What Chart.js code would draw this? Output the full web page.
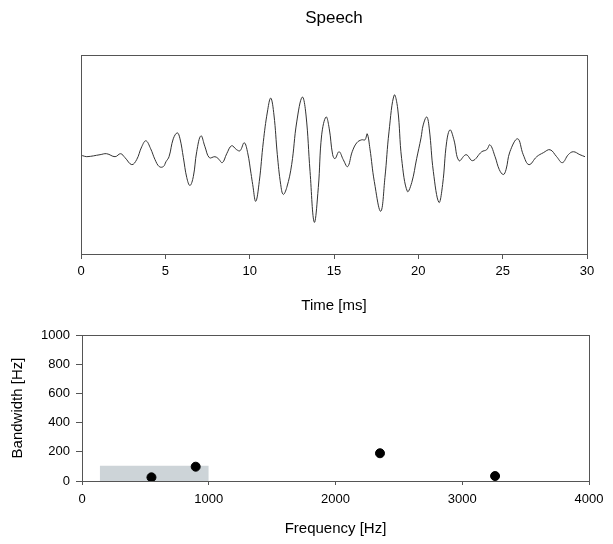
<!DOCTYPE html>
<html>
<head>
<meta charset="utf-8">
<script src="https://cdn.jsdelivr.net/npm/chart.js@4/dist/chart.umd.min.js"></script>
<style>
  html, body { margin: 0; padding: 0; background: #fff; }
  #wrap { position: relative; width: 613px; height: 544px; }
  #waveBox { position: absolute; left: 0; top: 0; width: 613px; height: 320px; }
  #formBox { position: absolute; left: 0; top: 320px; width: 613px; height: 224px; }
</style>
</head>
<body>
<div id="wrap">
  <div id="waveBox"><canvas id="waveChart"></canvas></div>
  <div id="formBox"><canvas id="formChart"></canvas></div>
</div>
<script>
// ===== DATA =====
// speech waveform (time in ms, arbitrary amplitude)
const timeMs = [0, 0.10, 0.34, 1.13, 1.52, 2.02, 2.35, 2.61, 3.01, 3.30, 3.60, 3.85, 4.13, 4.39, 4.64, 4.88,
  5.04, 5.22, 5.47, 5.71, 5.87, 6.07, 6.27, 6.46, 6.66, 6.86, 7.11, 7.35, 7.61, 7.94, 8.14, 8.38,
  8.64, 8.93, 9.23, 9.43, 9.68, 9.88, 10.08, 10.18, 10.36, 10.57, 10.81, 11.05, 11.25, 11.44, 11.64,
  11.84, 11.99, 12.20, 12.49, 12.79, 13.12, 13.34, 13.58, 13.83, 14.07, 14.27, 14.53, 14.72, 14.92,
  15.06, 15.30, 15.55, 15.81, 16.08, 16.35, 16.64, 16.84, 16.97, 17.13, 17.39, 17.77, 18.02, 18.26,
  18.57, 18.78, 19.01, 19.35, 19.61, 19.90, 20.16, 20.29, 20.50, 20.65, 20.89, 21.22, 21.44, 21.68,
  21.88, 22.11, 22.41, 22.83, 23.22, 23.76, 24.05, 24.25, 24.55, 24.80, 25.04, 25.20, 25.43, 25.89,
  26.22, 26.56, 27.02, 27.41, 27.81, 28.20, 28.54, 28.89, 29.19, 29.58, 29.88];
const amplitude = [-1, -1, -2, 0, 1, -2, 1, -3, -10, -5, 8, 14, 6, -5, -12, -12,
  -7, -2, 16, 22, 16, -3, -23, -31, -22, 3, 19, 8, -3, -2, -4, -8,
  1, 9, 5, 4, 12, 2, -19, -30, -47, -27, 13, 43, 57, 40, 0,
  -30, -40, -33, -10, 33, 58, 40, -17, -68, -33, 20, 38, 26, 0,
  -4, 3, -5, -12, 3, 12, 15, 15, 21, 6, -27, -57, -23, 23,
  60, 46, -4, -37, -28, -4, 17, 30, 38, 26, -17, -48, -30, 13,
  25, 15, -6, 0, -6, 3, 5, 10, -2, -15, -20, -15, 3, 16,
  0, -10, -2, 2, 5, -2, -8, 0, 3, 0, -2];
const timeTicks = [0, 5, 10, 15, 20, 25, 30];

// formants
const formantFreq = [548, 897, 2351, 3259];
const formantBw = [25, 98, 190, 34];
const bandFreq = [140, 1000];
const bandTop = 105;
const freqTicks = [0, 1000, 2000, 3000, 4000];
const bwTicks = [0, 200, 400, 600, 800, 1000];

// ===== STYLE =====
Chart.defaults.font.family = '"Liberation Sans", Arial, sans-serif';
Chart.defaults.color = '#000';
Chart.defaults.animation = false;
const frameColor = '#555';

const boxPlugin = {
  id: 'box',
  afterDraw(chart) {
    const { ctx, chartArea: a } = chart;
    ctx.save();
    ctx.strokeStyle = frameColor;
    ctx.lineWidth = 1;
    ctx.strokeRect(Math.round(a.left) + 0.5, Math.round(a.top) + 0.5,
      Math.round(a.right - a.left), Math.round(a.bottom - a.top));
    ctx.restore();
  }
};

const fixedTicks = list => scale => { scale.ticks = list.map(v => ({ value: v })); };
const plainLabel = v => String(v);

// ===== WAVEFORM CHART =====
new Chart(document.getElementById('waveChart'), {
  type: 'line',
  data: {
    datasets: [{
      data: timeMs.map((t, i) => ({ x: t, y: amplitude[i] })),
      borderColor: '#333',
      borderWidth: 1,
      pointRadius: 0,
      tension: 0.4,
      fill: false,
    }]
  },
  options: {
    responsive: true,
    maintainAspectRatio: false,
    layout: { padding: { left: 81, right: 26, top: 0, bottom: 0 } },
    plugins: {
      legend: { display: false },
      tooltip: { enabled: false },
      title: {
        display: true, text: 'Speech', color: '#000',
        font: { size: 17, weight: 'normal' },
        padding: { top: 8, bottom: 27 },
      },
    },
    scales: {
      x: {
        type: 'linear', min: 0, max: 30,
        afterBuildTicks: fixedTicks(timeTicks),
        afterFit: s => { s.height = 66; },
        grid: { drawOnChartArea: false, tickLength: 5, color: frameColor, tickColor: frameColor },
        border: { color: frameColor },
        ticks: { font: { size: 13 }, padding: 5, maxRotation: 0, callback: plainLabel },
        title: { display: true, text: 'Time [ms]', font: { size: 15 }, padding: { top: 0, bottom: 5 } },
      },
      y: { display: false, min: -100, max: 100 },
    }
  },
  plugins: [boxPlugin]
});

// ===== FORMANT CHART =====
new Chart(document.getElementById('formChart'), {
  type: 'scatter',
  data: {
    datasets: [{
      data: formantFreq.map((f, i) => ({ x: f, y: formantBw[i] })),
      backgroundColor: '#000',
      borderColor: '#000',
      pointRadius: 4.5,
      order: 0,
    }, {
      type: 'line',
      data: bandFreq.map(f => ({ x: f, y: bandTop })),
      backgroundColor: '#cdd4d8',
      borderWidth: 0,
      pointRadius: 0,
      fill: 'origin',
      order: 1,
    }]
  },
  options: {
    responsive: true,
    maintainAspectRatio: false,
    layout: { padding: { left: 0, right: 24, top: 15, bottom: 0 } },
    plugins: { legend: { display: false }, tooltip: { enabled: false } },
    scales: {
      x: {
        type: 'linear', min: 0, max: 4000,
        afterBuildTicks: fixedTicks(freqTicks),
        afterFit: s => { s.height = 63; },
        grid: { drawOnChartArea: false, tickLength: 4, color: frameColor, tickColor: frameColor },
        border: { color: frameColor },
        ticks: { font: { size: 13 }, padding: 7, maxRotation: 0, callback: plainLabel },
        title: { display: true, text: 'Frequency [Hz]', font: { size: 15 }, padding: { top: 0, bottom: 6 } },
      },
      y: {
        min: 0, max: 1000,
        afterBuildTicks: fixedTicks(bwTicks),
        afterFit: s => { s.width = 82; },
        grid: { drawOnChartArea: false, tickLength: 6, color: frameColor, tickColor: frameColor },
        border: { color: frameColor },
        ticks: { font: { size: 13 }, padding: 6, callback: plainLabel },
        title: { display: true, text: 'Bandwidth [Hz]', font: { size: 15 }, padding: { top: 9, bottom: 0 } },
      },
    }
  },
  plugins: [boxPlugin]
});
</script>
</body>
</html>
